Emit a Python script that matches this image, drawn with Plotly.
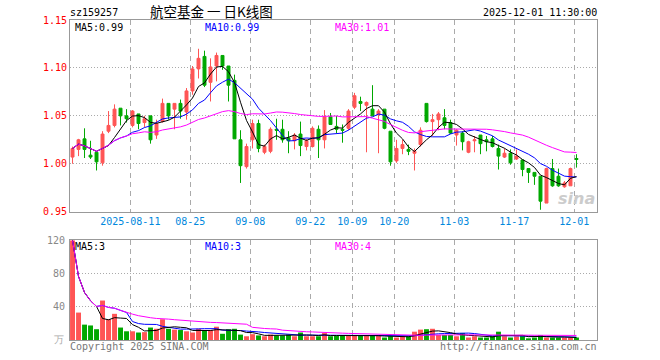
import plotly.graph_objects as go

# ---------------- data ----------------
dates = [
    "2025-07-28", "2025-07-29", "2025-07-30", "2025-07-31", "2025-08-01",
    "2025-08-04", "2025-08-05", "2025-08-06", "2025-08-07", "2025-08-08",
    "2025-08-11", "2025-08-12", "2025-08-13", "2025-08-14", "2025-08-15",
    "2025-08-18", "2025-08-19", "2025-08-20", "2025-08-21", "2025-08-22",
    "2025-08-25", "2025-08-26", "2025-08-27", "2025-08-28", "2025-08-29",
    "2025-09-01", "2025-09-02", "2025-09-03", "2025-09-04", "2025-09-05",
    "2025-09-08", "2025-09-09", "2025-09-10", "2025-09-11", "2025-09-12",
    "2025-09-15", "2025-09-16", "2025-09-17", "2025-09-18", "2025-09-19",
    "2025-09-22", "2025-09-23", "2025-09-24", "2025-09-25", "2025-09-26",
    "2025-09-29", "2025-09-30", "2025-10-09", "2025-10-10", "2025-10-13",
    "2025-10-14", "2025-10-15", "2025-10-16", "2025-10-17", "2025-10-20",
    "2025-10-21", "2025-10-22", "2025-10-23", "2025-10-24", "2025-10-27",
    "2025-10-28", "2025-10-29", "2025-10-30", "2025-10-31", "2025-11-03",
    "2025-11-04", "2025-11-05", "2025-11-06", "2025-11-07", "2025-11-10",
    "2025-11-11", "2025-11-12", "2025-11-13", "2025-11-14", "2025-11-17",
    "2025-11-18", "2025-11-19", "2025-11-20", "2025-11-21", "2025-11-24",
    "2025-11-25", "2025-11-26", "2025-11-27", "2025-11-28", "2025-12-01",
]

opens = [
    1.007, 1.015, 1.026, 1.009, 1.012, 1.001, 1.034, 1.040, 1.058, 1.050,
    1.040, 1.052, 1.043, 1.050, 1.030, 1.044, 1.063, 1.057, 1.063, 1.054,
    1.076, 1.099, 1.112, 1.085, 1.102, 1.113, 1.102, 1.087, 1.025, 0.997,
    1.025, 1.042, 1.012, 1.013, 1.036, 1.036, 1.027, 1.024, 1.031, 1.018,
    1.018, 1.036, 1.025, 1.049, 1.039, 1.036, 1.037, 1.059, 1.065, 1.061,
    1.057, 1.051, 1.057, 1.034, 1.003, 1.016, 1.015, 1.011, 1.020, 1.063,
    1.044, 1.046, 1.048, 1.043, 1.030, 1.032, 1.012, 1.024, 1.030, 1.025,
    1.026, 1.016, 1.007, 1.011, 1.005, 1.004, 0.995, 0.991, 0.987, 0.959,
    0.995, 0.987, 0.976, 0.977, 1.0055,
]
highs = [
    1.018, 1.026, 1.037, 1.024, 1.012, 1.034, 1.055, 1.062, 1.058, 1.057,
    1.056, 1.052, 1.050, 1.050, 1.046, 1.068, 1.063, 1.063, 1.067, 1.079,
    1.102, 1.120, 1.118, 1.110, 1.116, 1.113, 1.102, 1.093, 1.035, 1.021,
    1.046, 1.046, 1.020, 1.038, 1.047, 1.046, 1.034, 1.032, 1.044, 1.026,
    1.039, 1.040, 1.056, 1.053, 1.050, 1.041, 1.057, 1.074, 1.070, 1.065,
    1.082, 1.057, 1.057, 1.034, 1.025, 1.025, 1.020, 1.016, 1.038, 1.063,
    1.052, 1.054, 1.057, 1.046, 1.036, 1.034, 1.024, 1.029, 1.030, 1.029,
    1.029, 1.020, 1.016, 1.015, 1.015, 1.004, 0.995, 0.991, 0.987, 0.996,
    1.005, 0.995, 0.982, 0.996, 1.010,
]
lows = [
    1.000, 1.008, 1.006, 1.005, 0.993, 0.998, 1.032, 1.038, 1.040, 1.043,
    1.038, 1.036, 1.038, 1.021, 1.026, 1.043, 1.046, 1.036, 1.047, 1.046,
    1.072, 1.089, 1.080, 1.065, 1.086, 1.098, 1.065, 1.026, 0.980, 0.995,
    1.016, 1.012, 1.010, 1.011, 1.025, 1.022, 1.011, 1.015, 1.008, 1.014,
    1.017, 1.006, 1.016, 1.041, 1.032, 1.022, 1.035, 1.057, 1.055, 1.012,
    1.050, 1.011, 1.036, 0.998, 1.001, 1.010, 1.009, 0.993, 1.018, 1.043,
    1.029, 1.035, 1.036, 1.031, 1.019, 1.014, 1.011, 1.012, 1.010, 1.013,
    1.017, 0.994, 1.006, 0.999, 1.004, 0.987, 0.980, 0.978, 0.952, 0.959,
    0.976, 0.976, 0.975, 0.977, 0.996,
]
closes = [
    1.016, 1.025, 1.015, 1.007, 1.002, 1.031, 1.040, 1.057, 1.050, 1.047,
    1.055, 1.042, 1.047, 1.025, 1.042, 1.063, 1.050, 1.063, 1.055, 1.076,
    1.099, 1.110, 1.082, 1.101, 1.113, 1.102, 1.082, 1.026, 0.998, 1.018,
    1.042, 1.016, 1.018, 1.036, 1.035, 1.025, 1.024, 1.030, 1.019, 1.024,
    1.037, 1.025, 1.049, 1.041, 1.036, 1.035, 1.055, 1.071, 1.063, 1.064,
    1.050, 1.055, 1.037, 1.002, 1.016, 1.020, 1.013, 1.013, 1.035, 1.044,
    1.046, 1.052, 1.040, 1.032, 1.035, 1.023, 1.023, 1.025, 1.021, 1.023,
    1.018, 1.008, 1.011, 1.001, 1.008, 0.994, 0.991, 0.987, 0.961, 0.995,
    0.977, 0.977, 0.980, 0.995, 1.0045,
]
volumes = [
    120, 33, 18.5, 17.5, 13, 47.5, 25, 31.5, 15, 10.5,
    10.5, 9, 9.5, 15, 13.5, 25, 13.5, 12.5, 12, 10.5,
    9, 13.5, 12, 12, 16, 7.5, 13, 13.5, 6.5, 4.5,
    7, 5.5, 4.5, 6.5, 5.5, 5.5, 6.5, 4.5, 9, 4.5,
    4.5, 4.5, 8.5, 4.5, 5, 5, 5, 5, 5, 6,
    5, 5, 3, 4.5, 3, 4.5, 4.5, 10, 12.5, 13,
    13.5, 6, 6, 6, 4.5, 8.5, 3, 4.5, 3, 3,
    5, 10, 4.5, 3, 4.5, 6, 2, 3, 6, 3,
    3, 3, 3, 3, 3,
]

tick_dates = ["2025-08-11", "2025-08-25", "2025-09-08", "2025-09-22", "2025-10-09",
              "2025-10-20", "2025-11-03", "2025-11-17", "2025-12-01"]
tick_labels = ["2025-08-11", "08-25", "09-08", "09-22", "10-09",
               "10-20", "11-03", "11-17", "12-01"]
price_ticks = [0.95, 1.00, 1.05, 1.10, 1.15]
vol_ticks = [40, 80, 120]
vol_tick_labels = ["40", "80", "120"]

price_ma_labels = ["MA5:0.99", "MA10:0.99", "MA30:1.01"]
vol_ma_labels = ["MA5:3", "MA10:3", "MA30:4"]

# ---------------- derived ----------------
def moving_avg(vals, n):
    out = []
    for i in range(len(vals)):
        w = vals[max(0, i - n + 1):i + 1]
        out.append(sum(w) / len(w))
    return out

xs = list(range(len(dates)))
RED = "#ff5555"
GREEN = "#00a800"
MONO = "DejaVu Sans Mono"
vol_colors = [RED if c >= o else GREEN for o, c in zip(opens, closes)]

FW, FH = 660, 360
L, R, T, B = 70, 597, 20, 340          # plot box in window pixels
W, H = R - L, B - T
def px(x):
    return (x - L) / W
def py(y):
    return (B - y) / H

main_bottom = 211.7
vol_top = 240.3
vol_dom = [0, py(vol_top)]
vol_range = [0, 120]

fig = go.Figure()

fig.add_trace(go.Candlestick(
    x=xs, open=opens, high=highs, low=lows, close=closes,
    xaxis="x", yaxis="y",
    increasing=dict(line=dict(color=RED, width=1), fillcolor=RED),
    decreasing=dict(line=dict(color=GREEN, width=1), fillcolor=GREEN),
    whiskerwidth=0, showlegend=False, hoverinfo="skip",
))

ma_specs = [(10, "#0000ff"), (5, "#000000"), (30, "#ff00ff")]
for n, col in ma_specs:
    fig.add_trace(go.Scatter(x=xs, y=moving_avg(closes, n), mode="lines",
                             line=dict(color=col, width=1), xaxis="x", yaxis="y",
                             showlegend=False, hoverinfo="skip"))

fig.add_trace(go.Bar(x=xs, y=volumes, marker=dict(color=vol_colors, line=dict(width=0)),
                     width=0.82, xaxis="x2", yaxis="y2", showlegend=False, hoverinfo="skip"))
for n, col in ma_specs:
    fig.add_trace(go.Scatter(x=xs, y=moving_avg(volumes, n), mode="lines",
                             line=dict(color=col, width=1), xaxis="x2", yaxis="y2",
                             showlegend=False, hoverinfo="skip"))

tickvals = [dates.index(d) - 0.37 for d in tick_dates]
xr = [-0.42, 87.42]
grid_common = dict(showline=True, linecolor="#999999", linewidth=1, mirror=True,
                   zeroline=False, ticks="", fixedrange=True, automargin=False)

fig.update_layout(
    width=FW, height=FH, autosize=False,
    margin=dict(l=L, r=FW - R, t=T, b=FH - B, pad=0, autoexpand=False),
    paper_bgcolor="white", plot_bgcolor="white",
    boxgap=0.3, bargap=0.17,
    xaxis=dict(domain=[0, 1], range=xr, anchor="y", tickvals=tickvals, ticktext=tick_labels,
               showgrid=True, gridcolor="#aaaaaa", griddash="5px,4px", gridwidth=1,
               tickfont=dict(family=MONO, size=10, color="#0088dd"),
               rangeslider=dict(visible=False), **grid_common),
    yaxis=dict(domain=[py(main_bottom), 1], range=[0.95, 1.15], anchor="x",
               tickvals=price_ticks, tickformat=".2f",
               showgrid=True, gridcolor="#aaaaaa", griddash="1px,2px", gridwidth=1,
               tickfont=dict(family=MONO, size=10, color="#ff0000"), **grid_common),
    xaxis2=dict(domain=[0, 1], range=xr, anchor="y2", tickvals=tickvals, showticklabels=False,
                showgrid=True, gridcolor="#aaaaaa", griddash="5px,4px", gridwidth=1, **grid_common),
    yaxis2=dict(domain=vol_dom, range=vol_range, anchor="x2",
                tickvals=vol_ticks, showticklabels=False,
                showgrid=True, gridcolor="#aaaaaa", griddash="1px,2px",
                gridwidth=1, **grid_common),
)

def ann(text, x, y, xanchor="left", color="#000000", size=10, family=MONO, **kw):
    fig.add_annotation(text=text, x=px(x), y=py(y), xref="paper", yref="paper",
                       xanchor=xanchor, yanchor="middle", showarrow=False, borderpad=0,
                       font=dict(family=family, size=size, color=color), **kw)

# volume axis labels (placed on the volume axis scale)
for v, lab in zip(vol_ticks, vol_tick_labels):
    yfrac = vol_dom[0] + (v - vol_range[0]) / (vol_range[1] - vol_range[0]) * (vol_dom[1] - vol_dom[0])
    fig.add_annotation(text=lab, x=px(66), y=yfrac, xref="paper", yref="paper",
                       xanchor="right", yanchor="middle", showarrow=False, borderpad=0,
                       font=dict(family=MONO, size=10, color="#888888"))

ann("sz159257", 69, 13)
ann("航空基金 一 日K线图", 149, 11.5, size=13.5, family="Noto Sans CJK SC")
ann("2025-12-01 11:30:00", 598, 13, xanchor="right")
ma_cols = ["#000000", "#0000ff", "#ff00ff"]
for lab, col, x in zip(price_ma_labels, ma_cols, [74, 204, 334]):
    ann(lab, x, 27.2, color=col)
for lab, col, x in zip(vol_ma_labels, ma_cols, [74, 204, 334]):
    ann(lab, x, 246.5, color=col)
ann("Copyright 2025 SINA.COM", 69, 346, color="#777777")
ann("http://finance.sina.com.cn", 598, 346, xanchor="right", color="#777777")
ann("万", 65, 339, xanchor="right", color="#aaaaaa")
ann("<b><i>sina</i></b>", 596, 198, xanchor="right", color="#cccccc", size=16, family="DejaVu Sans")

# remove the browser's default 8px page margin so the figure sits at the window origin
fig.write_html("out.html", config={"displayModeBar": False},
               post_script="document.body.style.margin='0px';")
